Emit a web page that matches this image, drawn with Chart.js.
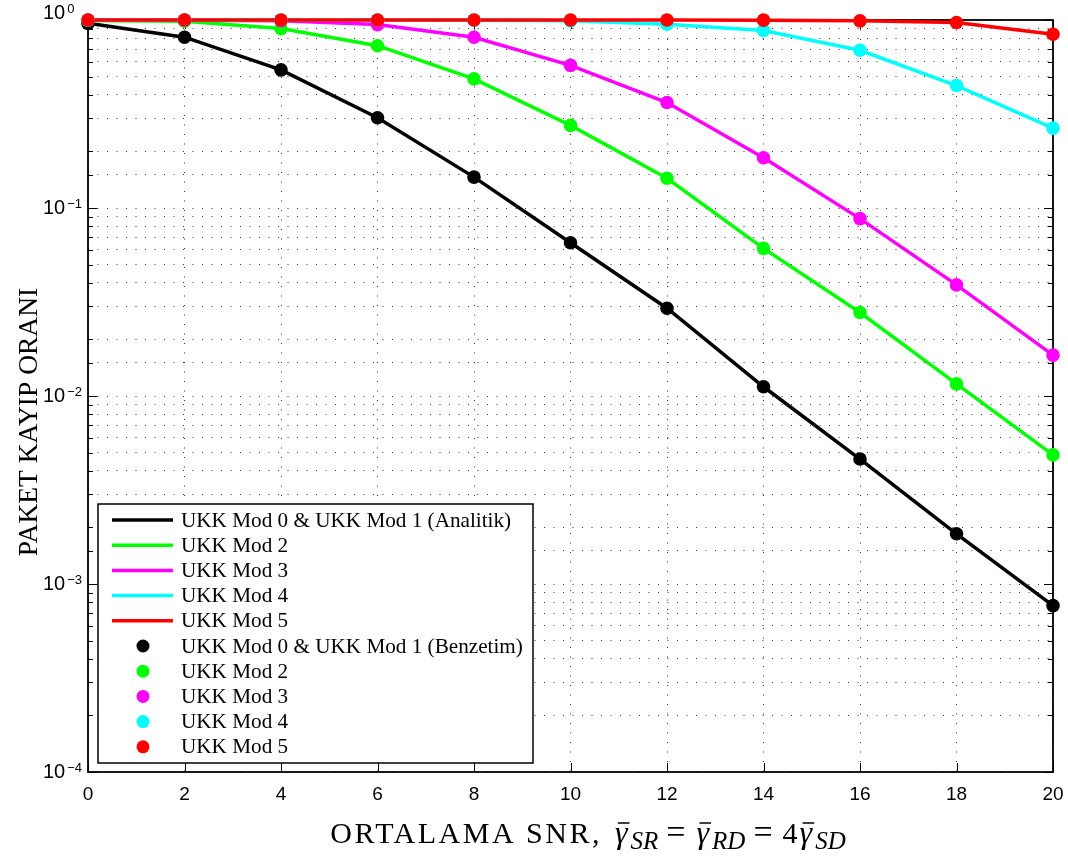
<!DOCTYPE html>
<html>
<head>
<meta charset="utf-8">
<script src="https://cdn.jsdelivr.net/npm/chart.js@4.4.1/dist/chart.umd.min.js"></script>
<style>
  html, body { margin: 0; padding: 0; background: #fff; }
  #wrap { width: 1068px; height: 858px; }
</style>
</head>
<body>
<div id="wrap"><canvas id="pkoChart" width="1068" height="858"></canvas></div>
<script>
// ortalama SNR (dB)
const snr = [0, 2, 4, 6, 8, 10, 12, 14, 16, 18, 20];

// analitik egriler
const ukkMod01 = [0.96, 0.81, 0.543, 0.302, 0.146, 0.0653, 0.0293, 0.0112, 0.00462, 0.00185, 0.000767];
const ukkMod2  = [0.995, 0.985, 0.90, 0.73, 0.486, 0.275, 0.144, 0.061, 0.0278, 0.0116, 0.00486];
const ukkMod3  = [1.0, 0.998, 0.99, 0.945, 0.81, 0.574, 0.364, 0.185, 0.0878, 0.039, 0.0165];
const ukkMod4  = [1.0, 1.0, 1.0, 1.0, 0.998, 0.99, 0.95, 0.88, 0.69, 0.448, 0.266];
const ukkMod5  = [1.0, 1.0, 1.0, 1.0, 1.0, 1.0, 1.0, 0.998, 0.99, 0.97, 0.84];

// benzetim sonuclari
const simMod01 = [0.96, 0.81, 0.543, 0.302, 0.146, 0.0653, 0.0293, 0.0112, 0.00462, 0.00185, 0.000767];
const simMod2  = [0.995, 0.985, 0.90, 0.73, 0.486, 0.275, 0.144, 0.061, 0.0278, 0.0116, 0.00486];
const simMod3  = [1.0, 0.998, 0.99, 0.945, 0.81, 0.574, 0.364, 0.185, 0.0878, 0.039, 0.0165];
const simMod4  = [1.0, 1.0, 1.0, 1.0, 0.998, 0.99, 0.95, 0.88, 0.69, 0.448, 0.266];
const simMod5  = [1.0, 1.0, 1.0, 1.0, 1.0, 1.0, 1.0, 0.998, 0.99, 0.97, 0.84];

const lineNames = ['UKK Mod 0 & UKK Mod 1 (Analitik)', 'UKK Mod 2', 'UKK Mod 3', 'UKK Mod 4', 'UKK Mod 5'];
const simNames  = ['UKK Mod 0 & UKK Mod 1 (Benzetim)', 'UKK Mod 2', 'UKK Mod 3', 'UKK Mod 4', 'UKK Mod 5'];
const colors    = ['#000000', '#00ff00', '#ff00ff', '#00ffff', '#ff0000'];

// y ekseni etiketleri: 10 uzeri us
const yDecades  = [1e-4, 1e-3, 1e-2, 1e-1, 1];
const yExps     = ['\u22124', '\u22123', '\u22122', '\u22121', '0'];

const SANS  = '"Liberation Sans", Arial, Helvetica, sans-serif';
const SERIF = '"Liberation Serif", "Times New Roman", serif';

const toXY = vals => snr.map((s, k) => ({ x: s, y: vals[k] }));

const analytic  = [ukkMod01, ukkMod2, ukkMod3, ukkMod4, ukkMod5];
const simulated = [simMod01, simMod2, simMod3, simMod4, simMod5];

const datasets = [];
analytic.forEach((vals, i) => {
    datasets.push({
        label: lineNames[i],
        data: toXY(vals),
        borderColor: colors[i],
        backgroundColor: colors[i],
        borderWidth: 3.5,
        pointRadius: 0,
        tension: 0,
        clip: false,
        order: 9 - i,
        kind: 'line'
    });
});
simulated.forEach((vals, i) => {
    datasets.push({
        label: simNames[i],
        data: toXY(vals),
        showLine: false,
        borderColor: colors[i],
        backgroundColor: colors[i],
        pointRadius: 6.8,
        pointBorderWidth: 0,
        pointBackgroundColor: colors[i],
        clip: false,
        order: 4 - i,
        kind: 'point'
    });
});

// cerceve ve iceri bakan tik cizgileri
const frameTicks = {
    id: 'frameTicks',
    beforeDatasetsDraw(chart) {
        const { ctx, chartArea: a, scales: { x, y } } = chart;
        ctx.save();
        ctx.strokeStyle = '#000';
        ctx.lineWidth = 1;
        ctx.beginPath();
        x.ticks.forEach(t => {
            const px = Math.round(x.getPixelForValue(t.value)) + 0.5;
            ctx.moveTo(px, a.bottom); ctx.lineTo(px, a.bottom - 9);
            ctx.moveTo(px, a.top); ctx.lineTo(px, a.top + 9);
        });
        y.ticks.forEach(t => {
            const lg = Math.log10(t.value);
            const major = Math.abs(lg - Math.round(lg)) < 1e-6;
            const len = major ? 9 : 5;
            const py = Math.round(y.getPixelForValue(t.value)) + 0.5;
            ctx.moveTo(a.left, py); ctx.lineTo(a.left + len, py);
            ctx.moveTo(a.right, py); ctx.lineTo(a.right - len, py);
        });
        ctx.stroke();
        ctx.lineWidth = 1.8;
        ctx.strokeRect(a.left, a.top, a.right - a.left, a.bottom - a.top);
        ctx.restore();
    }
};

// grafik ici lejant
const innerLegend = {
    id: 'innerLegend',
    afterDatasetsDraw(chart) {
        const { ctx } = chart;
        const box = { x: 98, y: 504, w: 435, h: 259 };
        ctx.save();
        ctx.fillStyle = '#fff';
        ctx.fillRect(box.x, box.y, box.w, box.h);
        ctx.strokeStyle = '#000';
        ctx.lineWidth = 1.5;
        ctx.strokeRect(box.x, box.y, box.w, box.h);
        ctx.font = '21.2px ' + SERIF;
        ctx.textBaseline = 'middle';
        ctx.textAlign = 'left';
        chart.data.datasets.forEach((ds, i) => {
            const cy = 520 + i * 25.2;
            if (ds.kind === 'line') {
                ctx.strokeStyle = ds.borderColor;
                ctx.lineWidth = 3.5;
                ctx.beginPath();
                ctx.moveTo(112, cy); ctx.lineTo(173, cy);
                ctx.stroke();
            } else {
                ctx.fillStyle = ds.pointBackgroundColor;
                ctx.beginPath();
                ctx.arc(143, cy, 6.5, 0, Math.PI * 2);
                ctx.fill();
            }
            ctx.fillStyle = '#000';
            ctx.fillText(ds.label, 181, cy + 1);
        });
        ctx.restore();
    }
};

// y ekseni etiketleri ve eksen basliklari
const axisText = {
    id: 'axisText',
    afterDraw(chart) {
        const { ctx, scales: { y } } = chart;
        ctx.save();
        ctx.fillStyle = '#000';
        ctx.textAlign = 'left';
        yDecades.forEach((v, i) => {
            let cy = y.getPixelForValue(v);
            if (v === 1) cy -= 7;
            ctx.font = '20px ' + SANS;
            ctx.textBaseline = 'middle';
            ctx.fillText('10', 43, cy);
            const w = ctx.measureText('10').width;
            ctx.font = '13px ' + SANS;
            ctx.textBaseline = 'alphabetic';
            ctx.fillText(yExps[i], 43 + w + 2, cy);
        });

        // dikey baslik
        ctx.save();
        ctx.translate(30, 422);
        ctx.rotate(-Math.PI / 2);
        ctx.font = '27.5px ' + SERIF;
        ctx.textAlign = 'center';
        ctx.textBaseline = 'middle';
        ctx.fillText('PAKET KAYIP ORANI', 0, 0);
        ctx.restore();

        // yatay baslik (matematik kisimli)
        const up = '30px ' + SERIF, eq = '34px ' + SERIF;
        const it = 'italic 32px ' + SERIF, sub = 'italic 25px ' + SERIF;
        const parts = [
            { t: 'ORTALAMA SNR,', f: up, ls: 2.5, gap: 0 },
            { t: '\u03b3', f: it, bar: true, gap: 13 },
            { t: 'SR', f: sub, dy: 6, gap: 3 },
            { t: '=', f: eq, gap: 8 },
            { t: '\u03b3', f: it, bar: true, gap: 11 },
            { t: 'RD', f: sub, dy: 6, gap: 3 },
            { t: '=', f: eq, gap: 8 },
            { t: '4', f: up, gap: 10 },
            { t: '\u03b3', f: it, bar: true, gap: 2 },
            { t: 'SD', f: sub, dy: 6, gap: 3 }
        ];
        let total = 0;
        parts.forEach(p => {
            ctx.font = p.f;
            ctx.letterSpacing = (p.ls || 0) + 'px';
            p.w = ctx.measureText(p.t).width;
            total += p.w + p.gap;
        });
        let px = 588 - total / 2;
        const base = 843;
        ctx.textBaseline = 'alphabetic';
        parts.forEach(p => {
            px += p.gap;
            ctx.font = p.f;
            ctx.letterSpacing = (p.ls || 0) + 'px';
            ctx.fillText(p.t, px, base + (p.dy || 0));
            if (p.bar) {
                ctx.strokeStyle = '#000';
                ctx.lineWidth = 1.5;
                ctx.beginPath();
                ctx.moveTo(px + 3, base - 20);
                ctx.lineTo(px + p.w + 2, base - 20);
                ctx.stroke();
            }
            px += p.w;
        });
        ctx.restore();
    }
};

const ctx = document.getElementById('pkoChart').getContext('2d');
new Chart(ctx, {
    type: 'line',
    data: { datasets: datasets },
    options: {
        responsive: false,
        animation: false,
        layout: { padding: { left: 0, top: 20, right: 15, bottom: 0 } },
        plugins: {
            legend: { display: false },
            tooltip: { enabled: false }
        },
        scales: {
            x: {
                type: 'linear',
                min: 0,
                max: 20,
                ticks: {
                    stepSize: 2,
                    autoSkip: false,
                    maxRotation: 0,
                    color: '#000',
                    padding: 11,
                    font: { family: SANS, size: 19 }
                },
                grid: { color: 'rgba(0,0,0,0.8)', lineWidth: 1, drawTicks: false },
                border: { display: false, dash: [1, 8.5] },
                afterFit: s => { s.height = 86; s.paddingLeft = 0; s.paddingRight = 0; }
            },
            y: {
                type: 'logarithmic',
                min: 1e-4,
                max: 1,
                ticks: { display: false },
                grid: { color: 'rgba(0,0,0,0.8)', lineWidth: 1, drawTicks: false },
                border: { display: false, dash: [1, 8.5] },
                afterFit: s => { s.width = 88; s.paddingTop = 0; s.paddingBottom = 0; }
            }
        }
    },
    plugins: [frameTicks, innerLegend, axisText]
});
</script>
</body>
</html>
